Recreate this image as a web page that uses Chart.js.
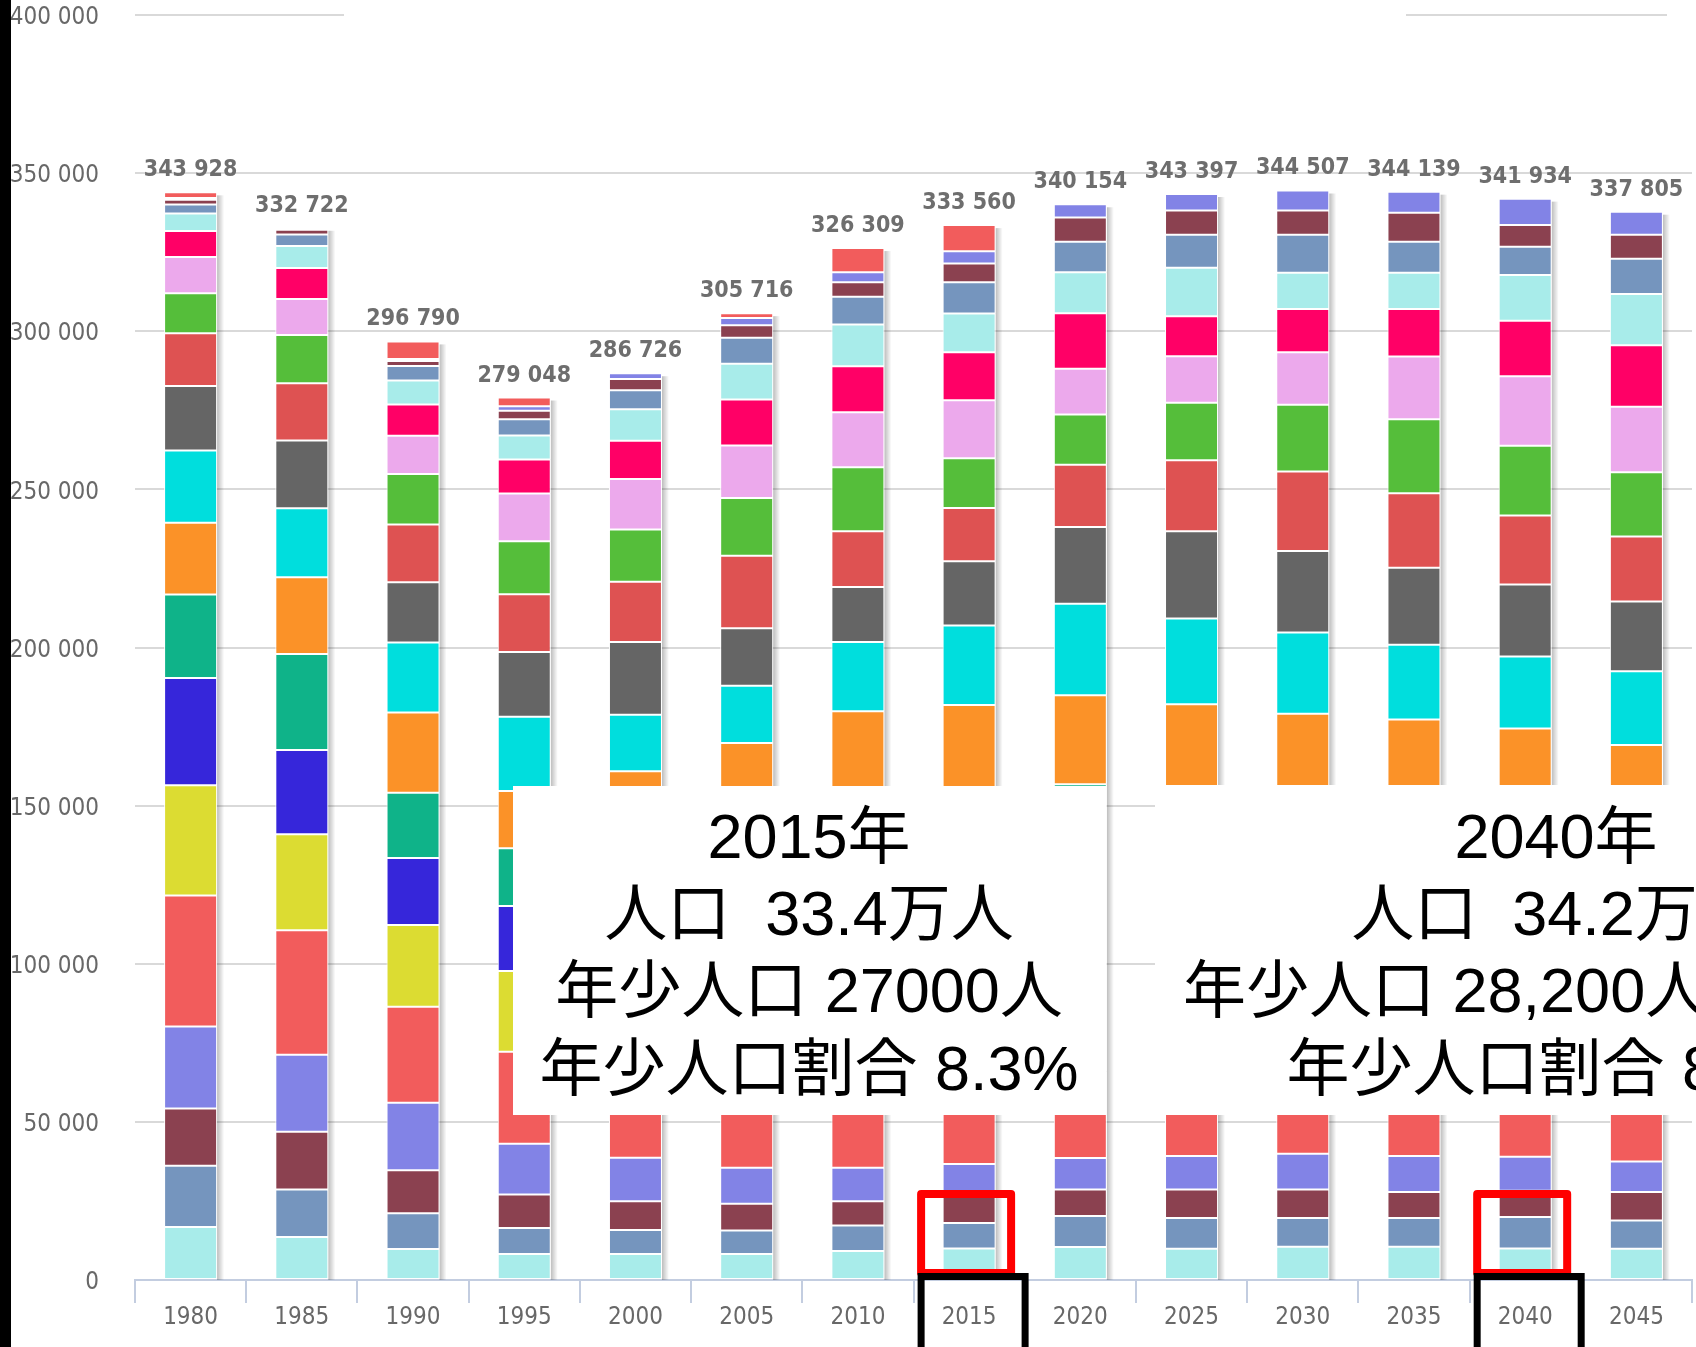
<!DOCTYPE html>
<html><head><meta charset="utf-8">
<script src="https://cdn.jsdelivr.net/npm/chart.js@4"></script>
<style>html,body{margin:0;padding:0;background:#fff;overflow:hidden}canvas{display:block}</style>
</head><body>
<canvas id="c" width="1696" height="1347"></canvas>
<script>
// ---- data (persons by 5-year age group) ----
const years = ['1980','1985','1990','1995','2000','2005','2010','2015','2020','2025','2030','2035','2040','2045'];
const totals = [343928,332722,296790,279048,286726,305716,326309,333560,340154,343397,344507,344139,341934,337805];
const ageGroups = ['0～4歳','5～9歳','10～14歳','15～19歳','20～24歳','25～29歳','30～34歳','35～39歳','40～44歳','45～49歳','50～54歳','55～59歳','60～64歳','65～69歳','70～74歳','75～79歳','80～84歳','85～89歳','90歳以上','年齢不詳'];
const age0_4   = [16720,13610,9812,8229,8229,8229,9179,9971,10445,9875,10508,10508,10000,9875];
const age5_9   = [19400,15033,11298,8229,7596,7438,8070,8039,9811,9748,9115,9115,9900,8957];
const age10_14 = [18140,18262,13610,10603,9083,8450,7659,8990,8356,8989,8989,8229,8300,9020];
const age15_19 = [25870,24307,21332,15983,13737,11394,10603,9717,10001,10571,11330,11331,10761,9653];
const age20_24 = [41490,39405,30321,29118,29500,30500,29356,28112,27314,25836,26134,27057,25431,23664];
const age25_29 = [34860,30320,25858,25542,28000,31000,31000,29000,31808,28000,27500,28000,27000,25500];
const age30_34 = [33910,26650,21237,20572,25500,28500,31000,30000,30289,29500,28000,27500,28000,27000];
const age35_39 = [26350,30320,20572,18230,21500,24000,28500,30000,28707,29500,29000,27500,27500,28000];
const age40_44 = [22700,24276,25416,18104,17700,20323,24500,28000,28200,30000,28500,28000,27500,27500];
const age45_49 = [22880,21838,22155,23485,17914,18104,21870,25162,28928,27188,25700,23611,22756,23358];
const age50_54 = [20400,21428,19021,20477,22978,18167,17376,20288,24276,27535,25731,24402,22756,21997];
const age55_59 = [16660,18135,18231,18231,19022,22914,17629,16869,19686,22472,25130,23516,21839,20604];
const age60_64 = [12620,15192,15983,16774,16521,18231,20224,15730,15857,18198,21142,23421,22028,20319];
const age65_69 = [11500,11394,12090,15129,16015,16648,17440,18326,14432,14654,16585,19845,22029,20668];
const age70_74 = [8200,9811,9906,10761,12059,14527,14559,15128,17597,12660,13641,14970,17534,19433];
const age75_79 = [5520,6963,7597,7596,9969,11331,13134,12280,12914,15350,11489,11457,14432,16205];
const age80_84 = [2840,3640,4557,5127,6046,8197,8799,9844,9716,10477,12059,9843,8925,11140];
const age85_89 = [1500,1500,1600,2700,3544,3925,4589,5950,7659,7627,7627,9179,6900,7660];
const age90p   = [600,500,650,1400,1813,2279,3134,3893,4158,5217,6327,6655,8343,7252];
const ageUnknown = [1768,138,5544,2758,0,1559,7688,8261,null,null,null,null,null,null];
const yTickValues = [0,50000,100000,150000,200000,250000,300000,350000,400000];

const box2015 = ['2015年','人口  33.4万人','年少人口 27000人','年少人口割合 8.3%'];
const box2040 = ['2040年','人口  34.2万人','年少人口 28,200人','年少人口割合 8.2%'];

// ---- styles ----
const palette = ['#A8ECEA','#7595BE','#8B4150','#8283E6','#F25C5C','#DCDC32','#3626DA','#0FB389',
                 '#FB9228','#00DEDD','#656565','#DE5252','#55BE3A','#ECA9EC','#FF0066'];
const series = [age0_4,age5_9,age10_14,age15_19,age20_24,age25_29,age30_34,age35_39,age40_44,age45_49,
                age50_54,age55_59,age60_64,age65_69,age70_74,age75_79,age80_84,age85_89,age90p,ageUnknown];
const fmt = v => String(v).replace(/\B(?=(\d{3})+(?!\d))/g, ' ');
const AXIS_FONT = '"DejaVu Sans Condensed", "Liberation Sans Narrow", "DejaVu Sans", sans-serif';

const datasets = series.map((data, i) => ({
  label: ageGroups[i],
  data,
  backgroundColor: palette[i % palette.length],
  borderColor: '#ffffff',
  borderWidth: ctx => (ctx.raw ? 1 : 0),
  borderSkipped: false,
  stack: 'pop',
  barPercentage: 0.4766,
  categoryPercentage: 1
}));

const overlay = {
  id: 'overlay',
  beforeDatasetsDraw(chart) {
    const {ctx, scales: {x, y}} = chart;
    const meta = chart.getDatasetMeta(0);
    ctx.save();
    totals.forEach((t, i) => {
      const bw = meta.data[i].width;
      const xr = x.getPixelForValue(i) + bw / 2;
      const top = y.getPixelForValue(t) + 3;
      const bot = y.getPixelForValue(0);
      const g = ctx.createLinearGradient(xr, 0, xr + 7, 0);
      g.addColorStop(0, 'rgba(0,0,0,0.26)');
      g.addColorStop(1, 'rgba(0,0,0,0)');
      ctx.fillStyle = g;
      ctx.fillRect(xr, top, 7, bot - top);
    });
    ctx.restore();
  },
  afterDatasetsDraw(chart) {
    const {ctx, scales: {x, y}} = chart;
    ctx.save();
    ctx.font = 'bold 23px ' + AXIS_FONT;
    ctx.fillStyle = '#6e6e6e';
    ctx.textAlign = 'center';
    ctx.textBaseline = 'alphabetic';
    totals.forEach((t, i) => ctx.fillText(fmt(t), x.getPixelForValue(i), y.getPixelForValue(t) - 16));
    ctx.restore();
  },
  afterDraw(chart) {
    const {ctx, scales: {x, y}} = chart;
    const y0 = y.getPixelForValue(0);
    ctx.save();
    // white patches over the top gridline
    ctx.fillStyle = '#ffffff';
    ctx.fillRect(344, 0, 1062, 30);
    ctx.fillRect(1667, 0, 40, 30);
    // annotation boxes
    ctx.fillRect(513, 786, 593, 329);
    ctx.fillRect(1155, 785, 545, 330);
    ctx.fillStyle = '#000000';
    ctx.font = '63px "Liberation Sans", "Noto Sans CJK JP", sans-serif';
    ctx.textBaseline = 'alphabetic';
    const bases = [858, 935, 1012, 1090];
    ctx.textAlign = 'center';
    box2015.forEach((s, k) => ctx.fillText(s, 809, bases[k]));
    box2040.forEach((s, k) => {
      if (k === 2) { ctx.textAlign = 'left'; ctx.fillText(s, 1183, bases[k]); ctx.textAlign = 'center'; }
      else ctx.fillText(s, 1556, bases[k]);
    });
    // highlight rectangles
    [7, 12].forEach(i => {
      const cx = x.getPixelForValue(i);
      ctx.lineJoin = 'round';
      ctx.strokeStyle = '#ff0000';
      ctx.lineWidth = 8;
      ctx.strokeRect(cx - 3 - 45, y0 - 86, 90, 79);
      ctx.strokeStyle = '#000000';
      ctx.lineWidth = 7;
      ctx.lineJoin = 'miter';
      ctx.strokeRect(cx + 4 - 52, y0 - 3.5, 104, 100);
    });
    // left black strip
    ctx.fillStyle = '#000000';
    ctx.fillRect(0, 0, 11, chart.height);
    ctx.restore();
  }
};

new Chart(document.getElementById('c'), {
  type: 'bar',
  data: {labels: years, datasets},
  options: {
    responsive: false,
    animation: false,
    devicePixelRatio: 1,
    layout: {padding: {left: 0, right: 4, top: 15, bottom: 0}},
    plugins: {legend: {display: false}, tooltip: {enabled: false}, title: {display: false}},
    scales: {
      x: {
        stacked: true,
        offset: true,
        afterFit: s => { s.height = 67; },
        grid: {offset: true, drawOnChartArea: false, drawTicks: true, tickLength: 23, color: '#c3cde0', lineWidth: 2},
        border: {display: true, color: '#c3cde0', width: 2},
        ticks: {padding: 0, color: '#686868', font: {family: AXIS_FONT, size: 24}, maxRotation: 0, autoSkip: false}
      },
      y: {
        stacked: true,
        min: 0, max: 400000,
        afterFit: s => { s.width = 135; s.paddingTop = 0; s.paddingBottom = 0; },
        afterBuildTicks: s => { s.ticks = yTickValues.map(v => ({value: v})); },
        grid: {color: '#d9d9d9', lineWidth: 2, drawTicks: true, tickLength: 36, tickColor: 'rgba(0,0,0,0)'},
        border: {display: false},
        ticks: {padding: 0, labelOffset: 3, color: '#686868', font: {family: AXIS_FONT, size: 24}, callback: v => fmt(v)}
      }
    }
  },
  plugins: [overlay]
});
</script>
</body></html>
